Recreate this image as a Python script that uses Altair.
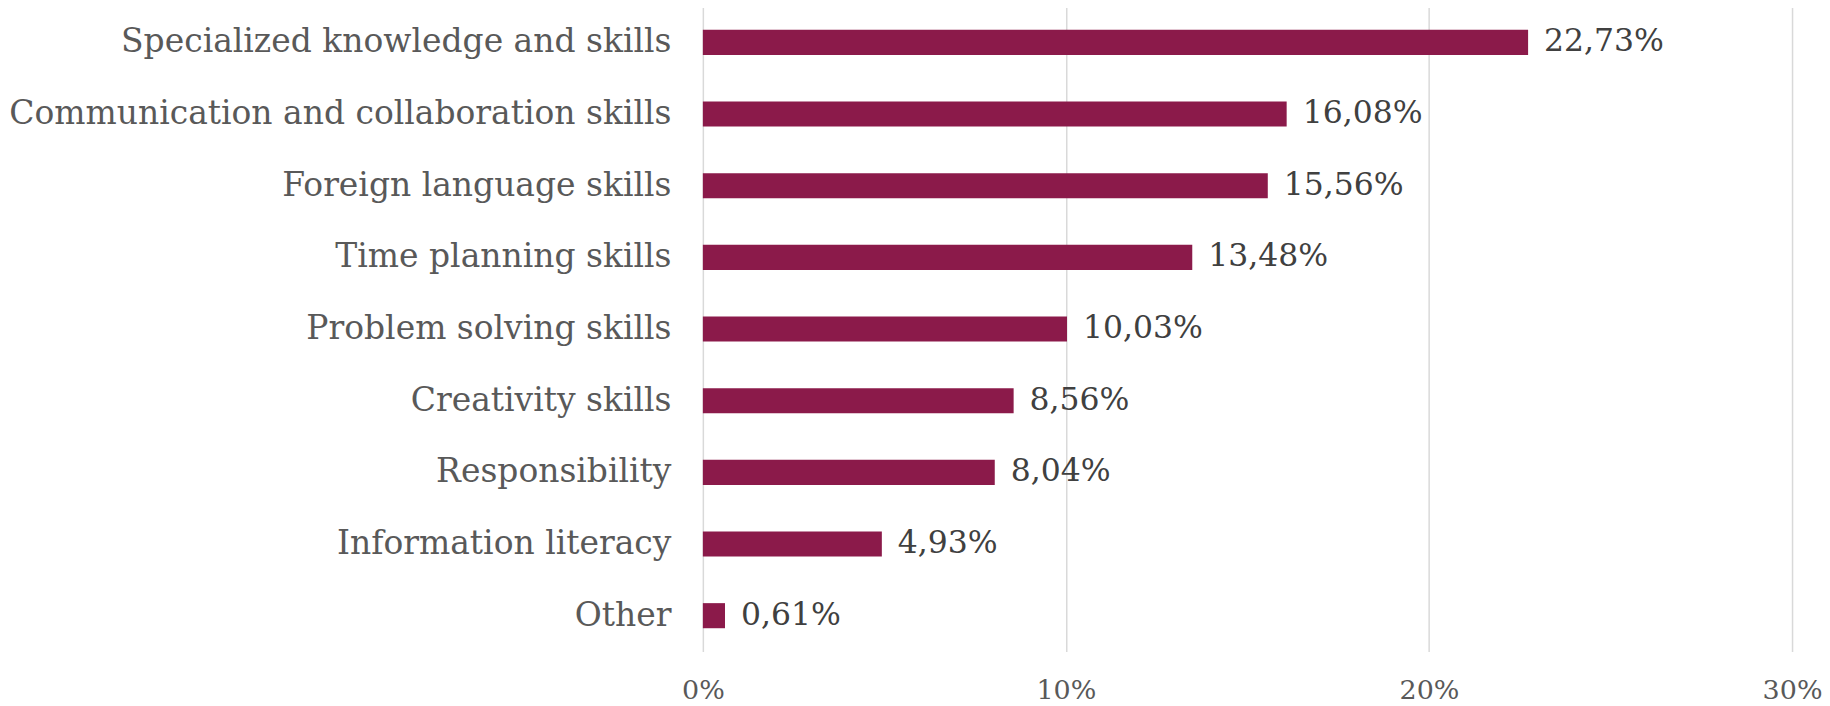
import altair as alt
import pandas as pd

categories = [
    "Specialized knowledge and skills",
    "Communication and collaboration skills",
    "Foreign language skills",
    "Time planning skills",
    "Problem solving skills",
    "Creativity skills",
    "Responsibility",
    "Information literacy",
    "Other",
]
values = [22.73, 16.08, 15.56, 13.48, 10.03, 8.56, 8.04, 4.93, 0.61]
x_ticks = [0, 10, 20, 30]

df = pd.DataFrame({"category": categories, "value": values})

FONT = "DejaVu Serif"

y_enc = alt.Y(
    "category:N",
    sort=categories,
    scale=alt.Scale(paddingInner=0.65, paddingOuter=0.325),
    axis=alt.Axis(
        title=None, domain=False, ticks=False, labelPadding=32,
        labelFont=FONT, labelFontSize=33, labelColor="#595959", labelLimit=800,
    ),
)
x_enc = alt.X(
    "value:Q",
    scale=alt.Scale(domain=[0, 30], nice=False),
    axis=alt.Axis(
        title=None, values=x_ticks, domain=False, ticks=False,
        labelExpr="datum.value + '%'", labelPadding=26,
        labelFont=FONT, labelFontSize=27, labelColor="#595959",
        gridColor="#d9d9d9", gridWidth=1.5,
        labelFlush=False,
    ),
)

bars = alt.Chart(df).mark_bar(color="#8B1A4A").encode(x=x_enc, y=y_enc)
labels = alt.Chart(df).transform_calculate(
    lbl="replace(format(datum.value, '.2f'), '.', ',') + '%'"
).mark_text(
    align="left", baseline="middle", dx=16, font=FONT, fontSize=31.5, color="#404040"
).encode(x="value:Q", y=alt.Y("category:N", sort=categories), text="lbl:N")

chart = (bars + labels).properties(
    width=1091, height=646,
    autosize=alt.AutoSizeParams(type="none"),
    padding={"left": 696, "top": -2, "right": 30, "bottom": 52},
).configure_view(stroke=None)

chart.save("out.html", embed_options={"renderer": "svg", "actions": False})
